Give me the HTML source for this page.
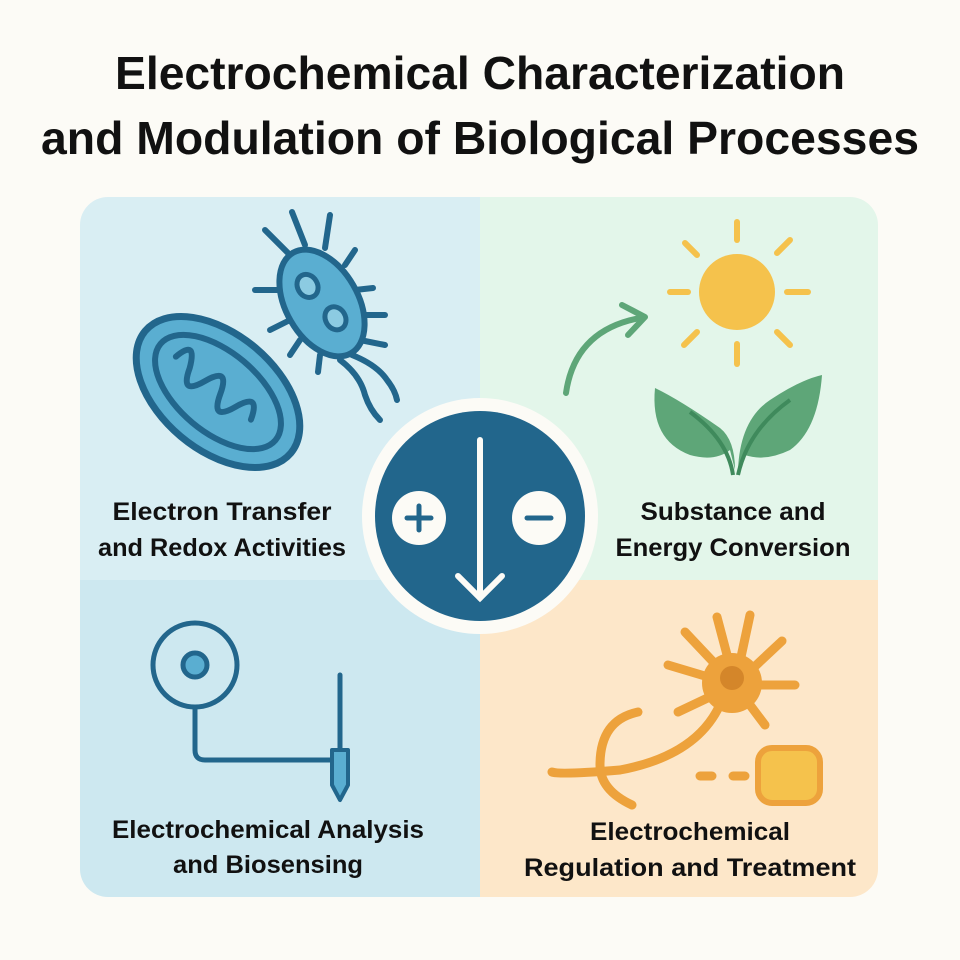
<!DOCTYPE html>
<html><head><style>
body{margin:0;background:#fcfbf6;}
svg{display:block}
text{font-family:"Liberation Sans","DejaVu Sans",sans-serif;font-weight:bold;fill:#111;text-anchor:middle}
</style></head><body>
<svg width="960" height="960" viewBox="0 0 960 960" xmlns="http://www.w3.org/2000/svg">
<rect width="960" height="960" fill="#fcfbf6"/>
<text x="480" y="89" font-size="46" textLength="730" lengthAdjust="spacingAndGlyphs">Electrochemical Characterization</text>
<text x="480" y="154" font-size="46" textLength="878" lengthAdjust="spacingAndGlyphs">and Modulation of Biological Processes</text>
<defs><clipPath id="c"><rect x="80" y="197" width="798" height="700" rx="28"/></clipPath></defs>
<g clip-path="url(#c)">
<rect x="80" y="197" width="400" height="383" fill="#d9eef3"/>
<rect x="480" y="197" width="400" height="383" fill="#e3f6ea"/>
<rect x="80" y="580" width="400" height="320" fill="#cde8f0"/>
<rect x="480" y="580" width="400" height="320" fill="#fde7c9"/>
</g>
<!-- mitochondrion -->
<g transform="translate(218,392) rotate(40)">
<ellipse cx="0" cy="0" rx="95" ry="58" fill="#5aaed1" stroke="#22668c" stroke-width="7"/>
<ellipse cx="0" cy="0" rx="75" ry="40" fill="none" stroke="#22668c" stroke-width="6"/>
<path d="M-55 0 q5 -28 18 0 q10 28 20 0 q10 -28 20 0 q10 28 20 0 q10 -28 20 0" fill="none" stroke="#22668c" stroke-width="6" stroke-linecap="round"/>
</g>
<!-- bacterium -->
<g stroke="#22668c" stroke-width="6" stroke-linecap="round" fill="none">
<line x1="290" y1="255" x2="265" y2="230"/><line x1="305" y1="245" x2="292" y2="212"/><line x1="325" y1="248" x2="330" y2="215"/>
<line x1="345" y1="265" x2="355" y2="250"/><line x1="355" y1="290" x2="373" y2="288"/><line x1="362" y1="315" x2="385" y2="315"/>
<line x1="360" y1="340" x2="385" y2="345"/><line x1="285" y1="290" x2="255" y2="290"/><line x1="290" y1="320" x2="270" y2="330"/>
<line x1="300" y1="340" x2="290" y2="355"/><line x1="320" y1="355" x2="318" y2="372"/>
<path d="M340 360 q20 15 25 35 q5 15 15 25"/><path d="M352 355 q25 10 35 25 q8 10 10 20"/>
</g>
<g transform="translate(322,303) rotate(-30)">
<ellipse rx="36" ry="58" fill="#5aaed1" stroke="#22668c" stroke-width="6"/>
<ellipse cx="-4" cy="-22" rx="10" ry="12" fill="#8ccbe2" stroke="#22668c" stroke-width="5"/>
<ellipse cx="4" cy="20" rx="10" ry="12" fill="#8ccbe2" stroke="#22668c" stroke-width="5"/>
</g>
<!-- sun -->
<circle cx="737" cy="292" r="38" fill="#f5c24c"/>
<g stroke="#f5c24c" stroke-width="6" stroke-linecap="round">
<line x1="737" y1="222" x2="737" y2="240"/><line x1="737" y1="344" x2="737" y2="364"/>
<line x1="670" y1="292" x2="688" y2="292"/><line x1="787" y1="292" x2="808" y2="292"/>
<line x1="685" y1="243" x2="697" y2="255"/><line x1="777" y1="332" x2="790" y2="345"/>
<line x1="790" y1="240" x2="777" y2="253"/><line x1="697" y1="332" x2="684" y2="345"/>
</g>
<path d="M566 393 Q575 330 640 318" fill="none" stroke="#5ea678" stroke-width="6" stroke-linecap="round"/>
<path d="M622 305 L645 317 L628 335" fill="none" stroke="#5ea678" stroke-width="6" stroke-linecap="round" stroke-linejoin="round"/>
<!-- leaves -->
<path d="M735 470 Q735 440 720 428 Q680 400 655 388 Q650 440 690 455 Q715 462 730 450" fill="#5ea678"/>
<path d="M738 470 Q740 420 770 400 Q800 380 822 375 Q818 430 790 450 Q765 462 745 455" fill="#5ea678"/>
<path d="M733 475 Q728 440 690 412 M738 475 Q748 430 790 400" fill="none" stroke="#3f8a5c" stroke-width="4"/>
<!-- probe -->
<g stroke="#22668c" stroke-width="5" fill="none" stroke-linecap="round">
<circle cx="195" cy="665" r="42"/>
<path d="M195 707 V750 Q195 760 205 760 H330"/>
<line x1="340" y1="675" x2="340" y2="750"/>
</g>
<circle cx="195" cy="665" r="12" fill="#5aaed1" stroke="#22668c" stroke-width="5"/>
<path d="M332 750 H348 V785 L340 800 L332 785 Z" fill="#5aaed1" stroke="#22668c" stroke-width="4" stroke-linejoin="round"/>
<!-- neuron -->
<g stroke="#eda23c" stroke-width="9" fill="none" stroke-linecap="round">
<path d="M735 685 L685 632"/><path d="M735 685 L717 617"/><path d="M735 685 L750 615"/><path d="M735 685 L782 641"/>
<path d="M735 685 L795 685"/><path d="M735 685 L765 725"/><path d="M735 685 L668 665"/><path d="M735 685 L678 712"/>
<path d="M722 700 Q700 755 620 770 Q560 775 552 772"/>
<path d="M638 712 Q600 720 600 765 Q600 790 632 805"/>
<path d="M700 776 H712 M733 776 H745"/>
</g>
<circle cx="732" cy="683" r="30" fill="#eda23c"/>
<circle cx="732" cy="678" r="12" fill="#d4862a"/>
<rect x="758" y="748" width="62" height="55" rx="14" fill="#f5c24c" stroke="#eda23c" stroke-width="6"/>
<!-- center -->
<circle cx="480" cy="516" r="118" fill="#fcfbf6"/>
<circle cx="480" cy="516" r="105" fill="#22668c"/>
<g stroke="#fcfbf6" stroke-width="6" stroke-linecap="round" fill="none">
<line x1="480" y1="440" x2="480" y2="598"/>
<path d="M458 576 L480 598 L502 576"/>
</g>
<circle cx="419" cy="518" r="27" fill="#fcfbf6"/>
<circle cx="539" cy="518" r="27" fill="#fcfbf6"/>
<g stroke="#22668c" stroke-width="5" stroke-linecap="round">
<line x1="407" y1="518" x2="431" y2="518"/><line x1="419" y1="506" x2="419" y2="530"/>
<line x1="527" y1="518" x2="551" y2="518"/>
</g>
<g font-size="25">
<text x="222" y="520" textLength="219" lengthAdjust="spacingAndGlyphs">Electron Transfer</text>
<text x="222" y="556" textLength="248" lengthAdjust="spacingAndGlyphs">and Redox Activities</text>
<text x="733" y="520" textLength="185" lengthAdjust="spacingAndGlyphs">Substance and</text>
<text x="733" y="556" textLength="235" lengthAdjust="spacingAndGlyphs">Energy Conversion</text>
<text x="268" y="838" textLength="312" lengthAdjust="spacingAndGlyphs">Electrochemical Analysis</text>
<text x="268" y="873" textLength="190" lengthAdjust="spacingAndGlyphs">and Biosensing</text>
<text x="690" y="840" textLength="200" lengthAdjust="spacingAndGlyphs">Electrochemical</text>
<text x="690" y="876" textLength="332" lengthAdjust="spacingAndGlyphs">Regulation and Treatment</text>
</g>
</svg>
</body></html>
